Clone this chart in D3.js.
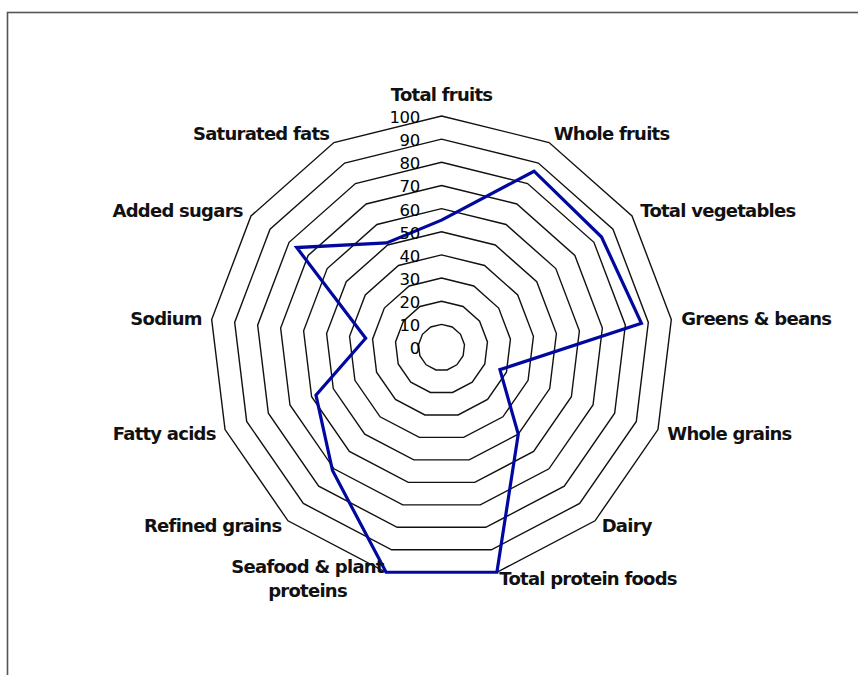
<!DOCTYPE html>
<html>
<head>
<meta charset="utf-8">
<script src="https://cdn.jsdelivr.net/npm/d3@7"></script>
<style>
  html, body { margin: 0; padding: 0; background: #fff; }
  svg { display: block; }
</style>
</head>
<body>
<div id="chart"></div>
<script>
const categories = ["Total fruits", "Whole fruits", "Total vegetables", "Greens & beans", "Whole grains", "Dairy", "Total protein foods", "Seafood & plant proteins", "Refined grains", "Fatty acids", "Sodium", "Added sugars", "Saturated fats"];
const values = [55, 86, 84, 87, 27, 50, 100, 100, 71, 58, 33, 76, 51];
const tickValues = [0, 10, 20, 30, 40, 50, 60, 70, 80, 90, 100];
const wrappedLabels = { "Seafood & plant proteins": ["Seafood & plant", "proteins"] };

const W = 858, H = 675;
const cx = 441.5, cy = 347.5, R = 231.5;

const svg = d3.select("#chart").append("svg").attr("width", W).attr("height", H);

// frame
svg.append("rect").attr("x", 7.5).attr("y", 12.5).attr("width", W + 20).attr("height", H + 20)
  .attr("fill", "#fff").attr("stroke", "#555").attr("stroke-width", 1.6);

const r = d3.scaleLinear().domain([0, 100]).range([0, R]);
const n = categories.length;
const angle = d3.scalePoint().domain(d3.range(n + 1)).range([0, 2 * Math.PI]);
const ang = i => angle(i % n);

const g = svg.append("g").attr("transform", `translate(${cx},${cy})`);

const radial = d3.lineRadial().angle((d, i) => ang(i)).radius(d => r(d)).curve(d3.curveLinearClosed);

// grid rings
g.selectAll("path.ring").data(tickValues.filter(v => v > 0)).join("path")
  .attr("class", "ring")
  .attr("d", v => radial(d3.range(n).map(() => v)))
  .attr("fill", "none").attr("stroke", "#111").attr("stroke-width", 1.4);

// series
g.append("path").datum(values)
  .attr("d", radial)
  .attr("fill", "none").attr("stroke", "#0008a0").attr("stroke-width", 3.2).attr("stroke-linejoin", "miter");

// tick labels
g.selectAll("text.tick").data(tickValues).join("text")
  .attr("class", "tick")
  .attr("x", -21.5).attr("y", v => -r(v) + 1).attr("dy", "0.36em")
  .attr("text-anchor", "end")
  .attr("font-family", "DejaVu Sans, Verdana, sans-serif").attr("font-size", 16.5)
  .attr("letter-spacing", -0.3)
  .attr("fill", "#000")
  .text(v => v);

// category labels
const LR = R + 10;
categories.forEach((c, i) => {
  const a = ang(i);
  const s = Math.sin(a), co = Math.cos(a);
  let x = LR * s, y = -LR * co;
  if (co < -0.5) y -= 3;
  let anchor = "middle";
  if (s > 0.1) anchor = "start"; else if (s < -0.1) anchor = "end"; else y -= 11;
  const lines = wrappedLabels[c] || [c];
  const t = g.append("text")
    .attr("font-family", "DejaVu Sans, Verdana, sans-serif").attr("font-size", 18)
    .attr("letter-spacing", -0.75)
    .attr("font-weight", "bold").attr("fill", "#111");
  if (lines.length === 1) {
    t.attr("x", x).attr("y", y).attr("dy", "0.36em").attr("text-anchor", anchor).text(c);
  } else {
    const spans = lines.map((l, k) => t.append("tspan").attr("y", y + (k - (lines.length - 1) / 2) * 24).attr("dy", "0.36em").text(l));
    const maxW = d3.max(spans, sp => sp.node().getComputedTextLength());
    const mx = anchor === "end" ? x - maxW / 2 : anchor === "start" ? x + maxW / 2 : x;
    spans.forEach(sp => sp.attr("x", mx).attr("text-anchor", "middle"));
  }
});
</script>
</body>
</html>
